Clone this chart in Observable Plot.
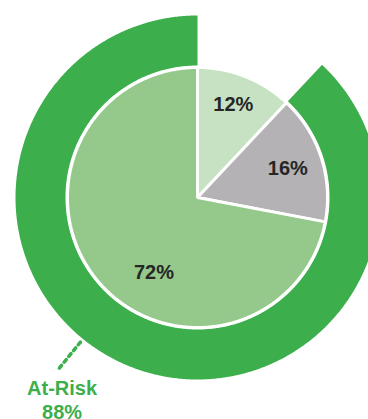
<!DOCTYPE html>
<html>
<head>
<meta charset="utf-8">
<script src="https://cdn.jsdelivr.net/npm/d3@7"></script>
<script src="https://cdn.jsdelivr.net/npm/@observablehq/plot@0.6"></script>
<style>
  html, body { margin: 0; padding: 0; background: #fff; }
  #chart svg { display: block; }
</style>
</head>
<body>
<div id="chart"></div>
<script>
// ---- data ----
const sliceNames = ["Low", "Medium", "High"];
const sliceValues = [12, 16, 72];
const ringName = "At-Risk";
const ringValue = 88;

// ---- layout (not data) ----
const W = 368, H = 419, CX = 197, CY = 197;
const pieR = 130, ringInner = 132, ringOuter = 182;
const sliceColors = ["#c6e2c2", "#b4b2b4", "#94c98b"];
const ringColor = "#3caf4c";
const labelPolar = [[21, 100], [72, 95], [210, 87]]; // degrees clockwise from north, radius

const rad = d => d * Math.PI / 180;
const px = (a, r) => r * Math.sin(rad(a));
const py = (a, r) => r * Math.cos(rad(a));

// pie geometry from the data
const total = d3.sum(sliceValues);
let acc = 0;
const slicePts = [];
const slices = sliceValues.map((v, i) => {
  const a0 = acc / total * 360; acc += v; const a1 = acc / total * 360;
  const pts = [{x: 0, y: 0}];
  const n = Math.max(2, Math.ceil((a1 - a0) / 0.5));
  for (let k = 0; k <= n; k++) { const a = a0 + (a1 - a0) * k / n; pts.push({x: px(a, pieR), y: py(a, pieR)}); }
  pts.push({x: 0, y: 0});
  pts.forEach(p => slicePts.push({...p, name: sliceNames[i]}));
  return {name: sliceNames[i], value: v, a0, a1,
          lx: px(labelPolar[i][0], labelPolar[i][1]), ly: py(labelPolar[i][0], labelPolar[i][1]),
          label: v + "%"};
});

// ring: the At-Risk share ends at 12 o'clock, going clockwise
const ringStart = (1 - ringValue / 100) * 360, ringEnd = 360;
const ringPts = [];
{
  const n = Math.ceil((ringEnd - ringStart) / 0.5);
  for (let k = 0; k <= n; k++) { const a = ringStart + (ringEnd - ringStart) * k / n; ringPts.push({x: px(a, ringOuter), y: py(a, ringOuter)}); }
  for (let k = n; k >= 0; k--) { const a = ringStart + (ringEnd - ringStart) * k / n; ringPts.push({x: px(a, ringInner), y: py(a, ringInner)}); }
  ringPts.push(ringPts[0]);
}

const leaderAngle = 219;
const leader = [{x: px(leaderAngle, 186), y: py(leaderAngle, 186)}, {x: px(leaderAngle, 220), y: py(leaderAngle, 220)}];

const chart = Plot.plot({
  width: W, height: H,
  margin: 0,
  x: {domain: [-CX, W - CX], axis: null},
  y: {domain: [CY - H, CY], axis: null},
  color: {domain: sliceNames, range: sliceColors},
  marks: [
    Plot.line(ringPts, {x: "x", y: "y", fill: ringColor, stroke: "none", curve: "linear-closed"}),
    Plot.line(slicePts, {x: "x", y: "y", z: "name", fill: "name", stroke: "#fff", strokeWidth: 3, strokeLinejoin: "miter", curve: "linear-closed"}),
    Plot.text(slices, {x: "lx", y: "ly", text: "label", fill: "#262626", fontSize: 20, fontWeight: "bold", fontFamily: "Liberation Sans, Arial, sans-serif"}),
    Plot.line(leader, {x: "x", y: "y", stroke: ringColor, strokeWidth: 3.5, strokeDasharray: "3.5,4"}),
    Plot.text([{x: leader[1].x, y: leader[1].y, t: ringName + "\n" + ringValue + "%"}],
      {x: "x", y: "y", text: "t", dx: 3, dy: 9, lineAnchor: "top", lineHeight: 1.2, fill: ringColor, fontSize: 20, fontWeight: "bold", fontFamily: "Liberation Sans, Arial, sans-serif"})
  ]
});
document.getElementById("chart").appendChild(chart);
</script>
</body>
</html>
